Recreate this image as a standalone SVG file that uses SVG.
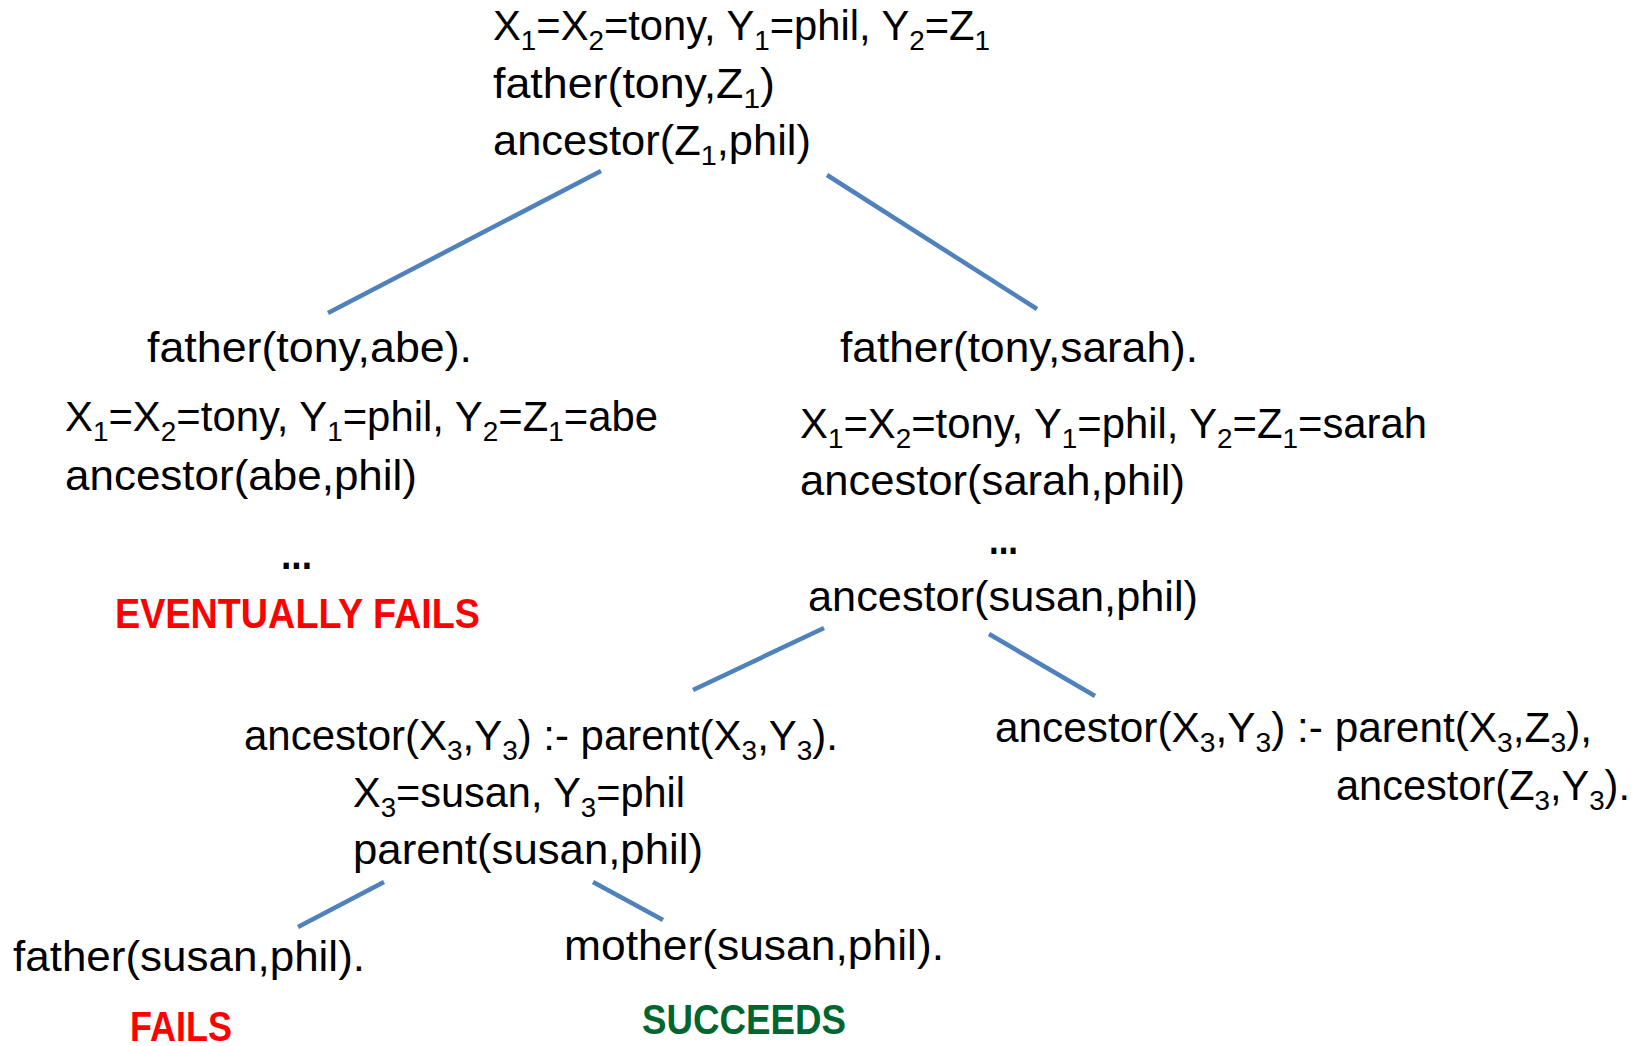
<svg xmlns="http://www.w3.org/2000/svg" width="1646" height="1046" viewBox="0 0 1646 1046">
<style>
text{font-family:"Liberation Sans",Arial,sans-serif;font-size:42px;fill:#000}
.s{font-size:28px;baseline-shift:-10px}
.b{font-weight:bold;font-size:43px}
.red{fill:#ff0000}
.green{fill:#00662e}
.edge{stroke:#4f81bd;stroke-width:4.5;fill:none}
</style>
<rect width="1646" height="1046" fill="#fff"/>
<g id="connectors">
<line class="edge" x1="601" y1="171" x2="328" y2="313"/>
<line class="edge" x1="827" y1="175" x2="1037" y2="309"/>
<line class="edge" x1="824" y1="628" x2="693" y2="690"/>
<line class="edge" x1="989" y1="634" x2="1095" y2="696"/>
<line class="edge" x1="384" y1="882" x2="298" y2="927"/>
<line class="edge" x1="593" y1="882" x2="663" y2="920"/>
</g>
<g id="root">
<text x="493" y="40" textLength="497" lengthAdjust="spacingAndGlyphs">X<tspan class="s">1</tspan>=X<tspan class="s">2</tspan>=tony, Y<tspan class="s">1</tspan>=phil, Y<tspan class="s">2</tspan>=Z<tspan class="s">1</tspan></text>
<text x="493" y="98" textLength="282" lengthAdjust="spacingAndGlyphs">father(tony,Z<tspan class="s">1</tspan>)</text>
<text x="493" y="155" textLength="318" lengthAdjust="spacingAndGlyphs">ancestor(Z<tspan class="s">1</tspan>,phil)</text>
</g>
<g id="left">
<text x="147" y="362" textLength="325" lengthAdjust="spacingAndGlyphs">father(tony,abe).</text>
<text x="65" y="431" textLength="593" lengthAdjust="spacingAndGlyphs">X<tspan class="s">1</tspan>=X<tspan class="s">2</tspan>=tony, Y<tspan class="s">1</tspan>=phil, Y<tspan class="s">2</tspan>=Z<tspan class="s">1</tspan>=abe</text>
<text x="65" y="490" textLength="352" lengthAdjust="spacingAndGlyphs">ancestor(abe,phil)</text>
<text x="281" y="569" class="b" textLength="31" lengthAdjust="spacingAndGlyphs">...</text>
<text x="115" y="628" class="b red" textLength="365" lengthAdjust="spacingAndGlyphs">EVENTUALLY FAILS</text>
</g>
<g id="right">
<text x="840" y="362" textLength="358" lengthAdjust="spacingAndGlyphs">father(tony,sarah).</text>
<text x="800" y="438" textLength="627" lengthAdjust="spacingAndGlyphs">X<tspan class="s">1</tspan>=X<tspan class="s">2</tspan>=tony, Y<tspan class="s">1</tspan>=phil, Y<tspan class="s">2</tspan>=Z<tspan class="s">1</tspan>=sarah</text>
<text x="800" y="495" textLength="385" lengthAdjust="spacingAndGlyphs">ancestor(sarah,phil)</text>
<text x="989" y="554" class="b" textLength="29" lengthAdjust="spacingAndGlyphs">...</text>
<text x="808" y="611" textLength="390" lengthAdjust="spacingAndGlyphs">ancestor(susan,phil)</text>
</g>
<g id="clause1">
<text x="244" y="750" textLength="594" lengthAdjust="spacingAndGlyphs">ancestor(X<tspan class="s">3</tspan>,Y<tspan class="s">3</tspan>) :- parent(X<tspan class="s">3</tspan>,Y<tspan class="s">3</tspan>).</text>
<text x="353" y="807" textLength="332" lengthAdjust="spacingAndGlyphs">X<tspan class="s">3</tspan>=susan, Y<tspan class="s">3</tspan>=phil</text>
<text x="353" y="864" textLength="350" lengthAdjust="spacingAndGlyphs">parent(susan,phil)</text>
</g>
<g id="clause2">
<text x="995" y="742" textLength="597" lengthAdjust="spacingAndGlyphs">ancestor(X<tspan class="s">3</tspan>,Y<tspan class="s">3</tspan>) :- parent(X<tspan class="s">3</tspan>,Z<tspan class="s">3</tspan>),</text>
<text x="1336" y="800" textLength="294" lengthAdjust="spacingAndGlyphs">ancestor(Z<tspan class="s">3</tspan>,Y<tspan class="s">3</tspan>).</text>
</g>
<g id="father-leaf">
<text x="13" y="971" textLength="352" lengthAdjust="spacingAndGlyphs">father(susan,phil).</text>
<text x="130" y="1041" class="b red" textLength="102" lengthAdjust="spacingAndGlyphs">FAILS</text>
</g>
<g id="mother-leaf">
<text x="564" y="960" textLength="380" lengthAdjust="spacingAndGlyphs">mother(susan,phil).</text>
<text x="642" y="1034" class="b green" textLength="204" lengthAdjust="spacingAndGlyphs">SUCCEEDS</text>
</g>
</svg>
